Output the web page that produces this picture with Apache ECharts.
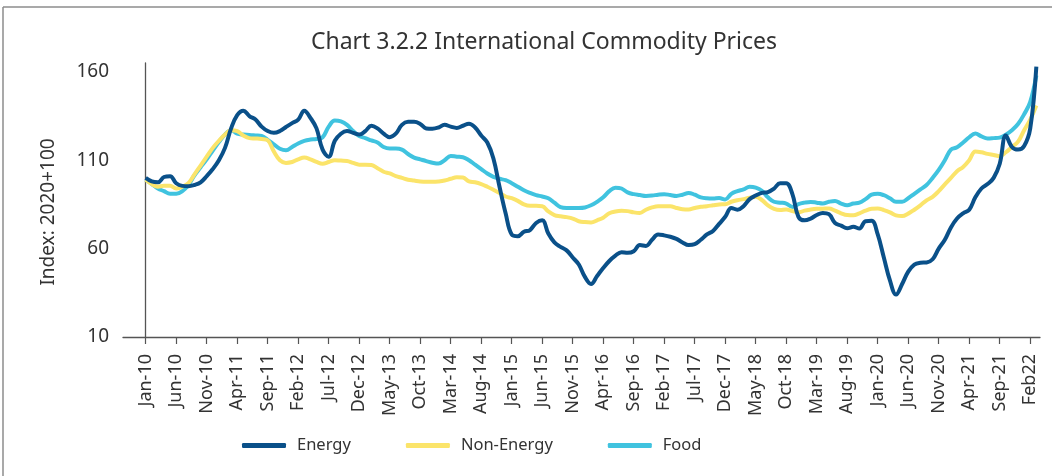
<!DOCTYPE html>
<html>
<head>
<meta charset="utf-8">
<script src="https://cdn.jsdelivr.net/npm/echarts@6/dist/echarts.min.js"></script>
<style>
html,body{margin:0;padding:0;background:#fff;}
#chart{width:1052px;height:476px;}
</style>
</head>
<body>
<div id="chart"></div>
<script>
// Monthly data, Jan-10 .. Mar-22 (index 0 = Jan-10)
const monthNames = ['Jan','Feb','Mar','Apr','May','Jun','Jul','Aug','Sep','Oct','Nov','Dec'];
const categories = [];
for (let i = 0; i < 147; i++) {
  categories.push(monthNames[i % 12] + '-' + String(10 + Math.floor(i / 12)));
}
const tickLabels = ['Jan-10','Jun-10','Nov-10','Apr-11','Sep-11','Feb-12','Jul-12','Dec-12','May-13','Oct-13',
  'Mar-14','Aug-14','Jan-15','Jun-15','Nov-15','Apr-16','Sep-16','Feb-17','Jul-17','Dec-17',
  'May-18','Oct-18','Mar-19','Aug-19','Jan-20','Jun-20','Nov-20','Apr-21','Sep-21','Feb22'];
const yTicks = [10, 60, 110, 160];

const energy = [
  100,98,97.5,100.5,101,97,95.5,95.3,96,97.5,
  101,105,110,117,128,135.5,138,135,133,129,
  126.5,125.5,126.5,128.8,131,133,138,134,128,116,
  112,121,125,126.5,125.5,124.5,126.5,129.5,128,125,
  123,125,130,131.7,131.7,130.5,128,127.8,128.5,130,
  129,128.3,129.5,130.7,128.5,124,120,111,95,80,
  68,67,69.5,70.5,74.5,76,68.5,63.5,61,59,
  55,51,44,40,44.5,49,53,56,58,57.6,
  58.5,62,61.5,65,68,67.5,66.7,65.5,63.5,62,
  62.5,65,68,70,74,78,83,82,84,88,
  90,91.5,92,94,97,97,91,78,76,77,
  79,80.2,79.5,74.5,73,71.5,72.3,71.4,75.5,75.7,
  68,55,42,34,40,47,51,52,52.2,54,
  60,65,72,77,80,82,89,94,96.5,100,
  108,124,117.5,116,118,128,163
];
const nonEnergy = [
  99,96.5,95,95.5,95.5,94,95,97,102,107,
  112,117,121,124.5,127,126.5,124,122.5,122.3,122,
  121.3,115,110,108.5,109,110.5,111.5,110.5,109,108,
  109,110,109.8,109.6,108.5,107.5,107.5,107.3,105.5,103.5,
  102.5,101,100,99,98.5,98,97.8,97.8,98,98.5,
  99.5,100.4,100.2,98,97.5,96.5,95,93.3,91.5,89.5,
  88.5,87,85,84.2,84.2,84,81,79,78.3,77.8,
  77,75.5,75,74.8,76,77.5,80,81,81.4,81.2,
  80.5,80.2,82,83.3,84,84,84,83,82.3,82.1,
  83,83.7,84,84.5,85,85.1,86.5,87.4,88,88.8,
  89.3,87.5,84.5,82.5,81.8,82.1,81.3,80.5,81.5,82.1,
  82.5,82.6,82.7,81.5,80,79,78.9,80,81.5,82.5,
  82.7,81.8,80.5,78.8,78.4,79.8,82,84.5,87.3,89.3,
  92.5,96.3,100,103.8,106.2,110,115,114.5,113.6,113,
  112.3,114.5,117.5,120.5,127,133,141
];
const food = [
  99,96.5,94,92.5,91,91,92.5,96,101.5,106,
  110.5,115.5,120.3,124.5,127,125,124.5,124.3,124,123.7,
  121.5,119,116.5,115.6,117.5,119.5,121,121.7,122,123,
  129,132.5,132,130,126.5,123.7,122.5,121.2,120,117.5,
  116.6,116.6,116,113.5,111.5,110.5,109.5,108.6,108.1,110,
  112.4,112,111.7,110,107.5,105,102.5,100.6,99.5,98.7,
  97,95,93,91.5,90.3,89.5,88.5,86,83.5,83,
  83,83,83.3,84.5,86.5,89,92.5,94.5,94,91.8,
  90.8,90.3,89.8,90,90.5,90.8,90.3,89.8,90.5,91.5,
  90.5,89,88.5,88.4,88.6,87.8,91,92.5,93.5,95,
  94.5,92.7,89,86.5,86,85.5,83.6,85.2,86,86.4,
  86,85.5,86.5,87,85.5,84.6,85.5,86,88,90.5,
  91,90.2,88.5,86.5,86.5,88.5,91,93.5,96,100,
  104.5,110,116,117.3,120,123,125.1,123.5,122.3,122.5,
  122.8,124.5,127,130.5,136,143,158
];

const FONT = '"Noto Sans", "DejaVu Sans", sans-serif';
const TXT = '#333333';
const tickIdx = tickLabels.map((_, i) => i * 5);
const toPairs = arr => arr.map((v, i) => [i, v]);

const chart = echarts.init(document.getElementById('chart'), null, {renderer: 'canvas'});
chart.setOption({
  animation: false,
  backgroundColor: '#ffffff',
  textStyle: {fontFamily: FONT},
  grid: {left: 123, right: 12, top: 63, bottom: 139},
  graphic: [
    {type: 'line', shape: {x1: 3, y1: 7, x2: 1052, y2: 7}, style: {stroke: '#8c8c8c', lineWidth: 1.5}, silent: true},
    {type: 'line', shape: {x1: 3, y1: 7, x2: 3, y2: 476}, style: {stroke: '#8c8c8c', lineWidth: 1.5}, silent: true},
    {type: 'text', x: 544, y: 42, style: {text: 'Chart 3.2.2 International Commodity Prices', fill: TXT,
      font: '23px ' + FONT, textAlign: 'center', textVerticalAlign: 'middle'}},
    {type: 'text', x: 49, y: 212, rotation: Math.PI / 2, style: {text: 'Index: 2020+100', fill: TXT,
      font: '19px ' + FONT, textAlign: 'center', textVerticalAlign: 'middle'}}
  ],
  legend: {
    left: 242, top: 437, padding: 0, itemWidth: 44, itemHeight: 5, itemGap: 55, icon: 'roundRect',
    textStyle: {fontSize: 16.5, color: TXT, fontFamily: FONT, padding: [0, 0, 0, 6]},
    data: ['Energy', 'Non-Energy', 'Food']
  },
  xAxis: {
    type: 'value', min: -3.72, max: 146.6,
    splitLine: {show: false},
    axisLine: {onZero: false, lineStyle: {color: '#555', width: 1.3}},
    axisTick: {show: true, customValues: tickIdx, length: 7, lineStyle: {color: '#555', width: 1.2}},
    axisLabel: {customValues: tickIdx, rotate: 90, margin: 17, fontSize: 18, color: TXT, fontFamily: FONT,
      formatter: v => tickLabels[Math.round(v / 5)] || ''}
  },
  yAxis: {
    type: 'value', min: 10, max: 165, interval: 50,
    splitLine: {show: false},
    axisLine: {show: true, lineStyle: {color: '#555', width: 1.3}},
    axisTick: {show: false},
    axisLabel: {showMaxLabel: false, fontSize: 19, color: TXT, margin: 14, fontFamily: FONT}
  },
  series: [
    {name: 'Energy', type: 'line', data: toPairs(energy), showSymbol: false, smooth: 0.4, z: 4,
      lineStyle: {width: 4, color: '#0a5089'}, itemStyle: {color: '#0a5089'}},
    {name: 'Non-Energy', type: 'line', data: toPairs(nonEnergy), showSymbol: false, smooth: 0.4, z: 3,
      lineStyle: {width: 4, color: '#fbe46a'}, itemStyle: {color: '#fbe46a'}},
    {name: 'Food', type: 'line', data: toPairs(food), showSymbol: false, smooth: 0.4, z: 2,
      lineStyle: {width: 4, color: '#40c3df'}, itemStyle: {color: '#40c3df'}}
  ]
});
</script>
</body>
</html>
